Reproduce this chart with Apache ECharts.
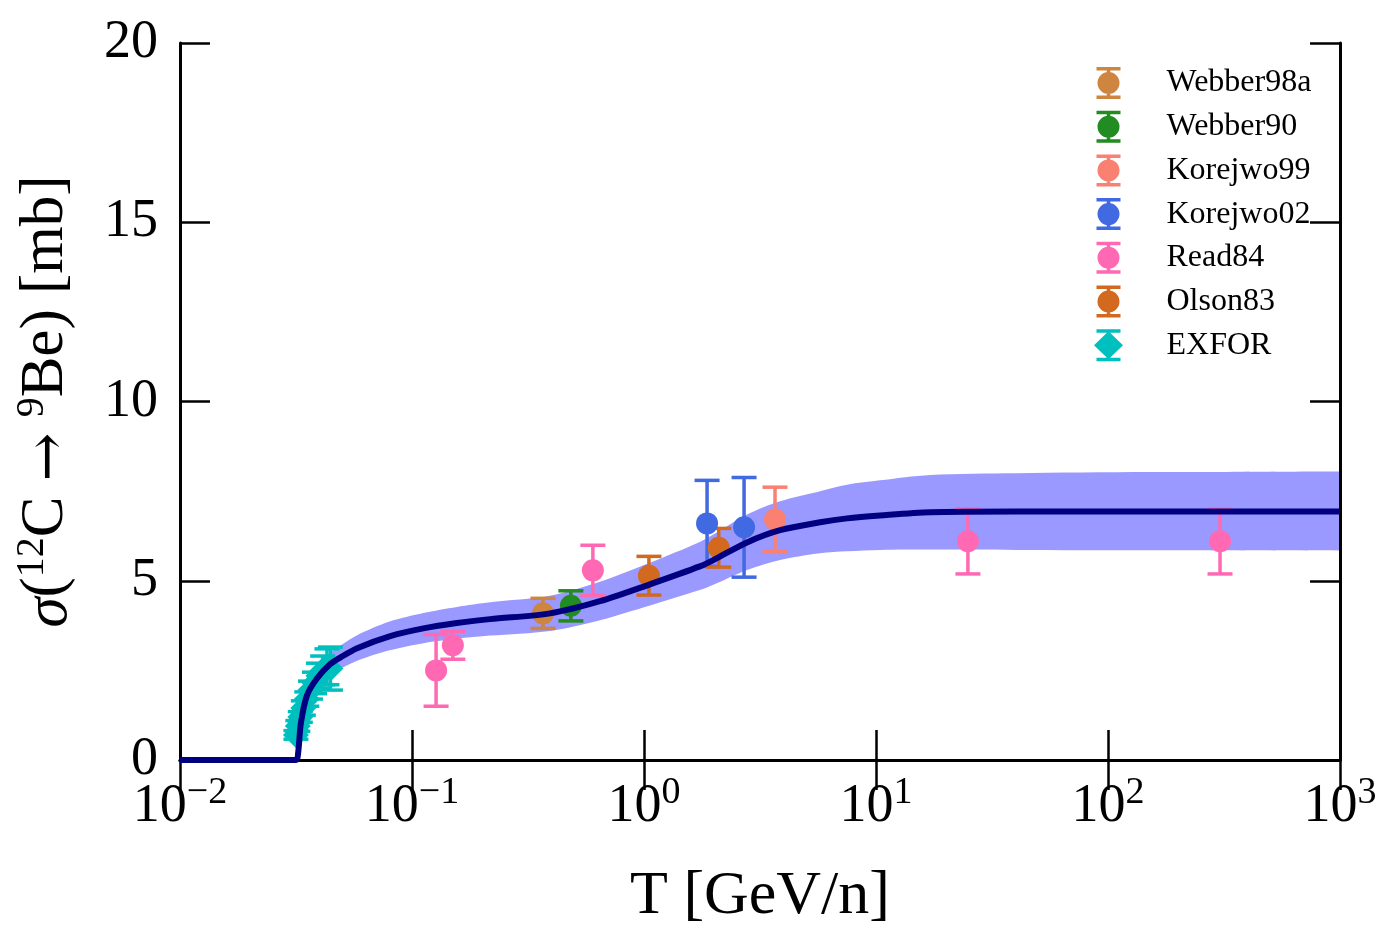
<!DOCTYPE html>
<html>
<head>
<meta charset="utf-8">
<script src="https://cdn.jsdelivr.net/npm/echarts@6/dist/echarts.min.js"></script>
<style>
  html, body { margin: 0; padding: 0; background: #fff; }
  #chart { width: 1395px; height: 945px; }
</style>
</head>
<body>
<div id="chart"></div>
<script>
// model curve: T [GeV/n], sigma [mb], band edges
var curveT  = [0.01, 0.0316, 0.0323, 0.0332, 0.0353, 0.039, 0.0443, 0.0494, 0.058, 0.080, 0.112, 0.156, 0.217, 0.393, 0.646, 1.06, 1.74, 1.98, 2.78, 3.86, 5.74, 7.50, 10.4, 17.1, 40, 150, 1000];
var curveY  = [0, 0, 0.20, 1.03, 1.81, 2.28, 2.67, 2.87, 3.12, 3.45, 3.67, 3.82, 3.93, 4.09, 4.43, 4.90, 5.40, 5.57, 6.07, 6.41, 6.63, 6.74, 6.82, 6.91, 6.93, 6.93, 6.93];
var bandHi  = [0, 0, 0.22, 1.12, 1.98, 2.52, 2.98, 3.20, 3.48, 3.86, 4.10, 4.27, 4.40, 4.58, 4.97, 5.50, 6.08, 6.28, 6.85, 7.22, 7.50, 7.68, 7.80, 7.95, 8.00, 8.03, 8.05];
var bandLo  = [0, 0, 0.18, 0.94, 1.65, 2.05, 2.37, 2.55, 2.77, 3.06, 3.26, 3.38, 3.47, 3.60, 3.90, 4.31, 4.74, 4.88, 5.30, 5.58, 5.77, 5.82, 5.86, 5.87, 5.86, 5.85, 5.84];

// measurements: energy, value, error
var webber98aT = [0.367], webber98aY = [4.09], webber98aE = [0.42];
var webber90T = [0.484], webber90Y = [4.30], webber90E = [0.42];
var korejwo99T = [3.67], korejwo99Y = [6.71], korejwo99E = [0.90];
var korejwo02T = [1.87, 2.70], korejwo02Y = [6.60, 6.49], korejwo02E = [1.20, 1.39];
var read84T = [0.127, 0.150, 0.602, 24.9, 304], read84Y = [2.50, 3.20, 5.29, 6.10, 6.10], read84E = [1.00, 0.39, 0.70, 0.91, 0.91];
var olson83T = [1.05, 2.10], olson83Y = [5.14, 5.92], olson83E = [0.54, 0.54];
var exforT = [0.0316, 0.0322, 0.0330, 0.0340, 0.0352, 0.0365, 0.0380, 0.0395, 0.0412, 0.0430, 0.0445];
var exforY = [0.70, 0.95, 1.20, 1.45, 1.70, 1.95, 2.15, 2.35, 2.50, 2.60, 2.55];
var exforE = [0.12, 0.15, 0.15, 0.20, 0.20, 0.25, 0.30, 0.35, 0.40, 0.50, 0.60];

var xTickExps = ['\u22122', '\u22121', '0', '1', '2', '3'];
var yTicks = [0, 5, 10, 15, 20];

var FONT = '"Liberation Serif", "DejaVu Serif", serif';
var circleIcon = 'path://M0,0H24V3.5H0Z M10.2,3.5H13.8V28.5H10.2Z M0,28.5H24V32H0Z M12,5A11,11 0 1,1 12,27A11,11 0 1,1 12,5Z';
var diamondIcon = 'path://M2.5,0H26.5V3.5H2.5Z M12.7,3.5H16.3V28.5H12.7Z M2.5,28.5H26.5V32H2.5Z M14.5,2L29,16L14.5,30L0,16Z';

var sets = [
  { name: 'Webber98a', color: '#CD853F', t: webber98aT, y: webber98aY, e: webber98aE, symbol: 'circle' },
  { name: 'Webber90', color: '#228B22', t: webber90T, y: webber90Y, e: webber90E, symbol: 'circle' },
  { name: 'Korejwo99', color: '#FA8072', t: korejwo99T, y: korejwo99Y, e: korejwo99E, symbol: 'circle' },
  { name: 'Korejwo02', color: '#4169E1', t: korejwo02T, y: korejwo02Y, e: korejwo02E, symbol: 'circle' },
  { name: 'Read84', color: '#FF69B4', t: read84T, y: read84Y, e: read84E, symbol: 'circle' },
  { name: 'Olson83', color: '#D2691E', t: olson83T, y: olson83Y, e: olson83E, symbol: 'circle' },
  { name: 'EXFOR', color: '#00BFBF', t: exforT, y: exforY, e: exforE, symbol: 'diamond' }
];

function errorBar(params, api) {
  var x = api.value(0), y = api.value(1), e = api.value(2);
  var hi = api.coord([x, y + e]);
  var lo = api.coord([x, y - e]);
  var color = api.visual('color');
  var style = { stroke: color, lineWidth: 3.5 };
  var half = 12.5;
  return {
    type: 'group',
    children: [
      { type: 'line', shape: { x1: hi[0], y1: hi[1], x2: lo[0], y2: lo[1] }, style: style },
      { type: 'line', shape: { x1: hi[0] - half, y1: hi[1], x2: hi[0] + half, y2: hi[1] }, style: style },
      { type: 'line', shape: { x1: lo[0] - half, y1: lo[1], x2: lo[0] + half, y2: lo[1] }, style: style }
    ]
  };
}

var series = [];

// uncertainty band: lower edge + width stacked on y
// (value first in each row so the stack goes on the y dimension, not the log x one)
series.push({
  type: 'line', name: 'bandLo', stack: 'band', smooth: 0.3, symbol: 'none', z: 1,
  encode: { x: 1, y: 0 },
  lineStyle: { opacity: 0 },
  data: curveT.map(function (t, i) { return [bandLo[i], t]; })
});
series.push({
  type: 'line', name: 'band', stack: 'band', smooth: 0.3, symbol: 'none', z: 1,
  encode: { x: 1, y: 0 },
  lineStyle: { opacity: 0 },
  areaStyle: { color: 'rgba(0,0,255,0.4)', opacity: 1 },
  data: curveT.map(function (t, i) { return [bandHi[i] - bandLo[i], t]; })
});

sets.forEach(function (s) {
  series.push({
    type: 'custom', name: s.name, z: 2,
    itemStyle: { color: s.color },
    renderItem: errorBar,
    data: s.t.map(function (t, i) { return [t, s.y[i], s.e[i]]; })
  });
  series.push({
    type: 'scatter', name: s.name, z: 3,
    symbol: s.symbol,
    symbolSize: s.symbol === 'diamond' ? 26 : 22,
    itemStyle: { color: s.color, opacity: 1 },
    data: s.t.map(function (t, i) { return [t, s.y[i]]; })
  });
});

series.push({
  type: 'line', name: 'model', smooth: 0.3, symbol: 'none', z: 8, clip: false,
  lineStyle: { color: '#000080', width: 6 },
  data: curveT.map(function (t, i) { return [t, curveY[i]]; })
});

var chart = echarts.init(document.getElementById('chart'));
var axisLine = { show: true, lineStyle: { color: '#000', width: 3 } };
var axisTick = { show: true, inside: true, length: 30, lineStyle: { color: '#000', width: 2.5 } };

chart.setOption({
  backgroundColor: '#fff',
  animation: false,
  grid: { left: 180, right: 55, top: 43, bottom: 185 },
  legend: {
    orient: 'vertical',
    left: 1089,
    top: 62,
    itemWidth: 106,
    itemHeight: 32,
    itemGap: 11.7,
    textStyle: { fontFamily: FONT, fontSize: 32, color: '#000', lineHeight: 32 },
    data: sets.map(function (s) {
      return { name: s.name, icon: s.symbol === 'diamond' ? diamondIcon : circleIcon };
    })
  },
  xAxis: [{
    type: 'log', logBase: 10, min: 0.01, max: 1000, z: 5,
    axisLine: axisLine, axisTick: axisTick, splitLine: { show: false },
    axisLabel: {
      margin: 14,
      formatter: function (v) {
        return '{b|10}{s|' + xTickExps[Math.round(Math.log10(v)) + 2] + '}';
      },
      rich: {
        b: { fontFamily: FONT, fontSize: 54, color: '#000', lineHeight: 60, verticalAlign: 'bottom' },
        s: { fontFamily: FONT, fontSize: 38, color: '#000', lineHeight: 30, verticalAlign: 'top' }
      }
    },
    name: 'T [GeV/n]', nameLocation: 'middle', nameGap: 106,
    nameTextStyle: { fontFamily: FONT, fontSize: 62, color: '#000' }
  }, {
    type: 'log', logBase: 10, min: 0.01, max: 1000, position: 'top', z: 5,
    axisLine: axisLine, axisTick: axisTick, splitLine: { show: false },
    axisLabel: { show: false }
  }],
  yAxis: [{
    type: 'value', min: yTicks[0], max: yTicks[yTicks.length - 1], interval: 5, z: 5,
    axisLine: axisLine, axisTick: axisTick, splitLine: { show: false },
    axisLabel: { margin: 22, fontFamily: FONT, fontSize: 54, color: '#000' },
    name: '{i|σ}({s|12}C {a|\u2192} {s|9}Be) [mb]', nameLocation: 'middle', nameGap: 100, nameRotate: 90,
    nameTextStyle: {
      fontFamily: FONT, fontSize: 61, color: '#000',
      rich: {
        i: { fontFamily: FONT, fontSize: 61, fontStyle: 'italic', color: '#000', lineHeight: 68, verticalAlign: 'bottom' },
        a: { fontFamily: '"DejaVu Serif", serif', fontSize: 58, color: '#000', lineHeight: 68, verticalAlign: 'bottom' },
        s: { fontFamily: FONT, fontSize: 40, color: '#000', lineHeight: 36, verticalAlign: 'top' }
      }
    }
  }, {
    type: 'value', min: yTicks[0], max: yTicks[yTicks.length - 1], interval: 5, position: 'right', z: 5,
    axisLine: axisLine, axisTick: axisTick, splitLine: { show: false },
    axisLabel: { show: false }
  }],
  series: series
});
</script>
</body>
</html>
